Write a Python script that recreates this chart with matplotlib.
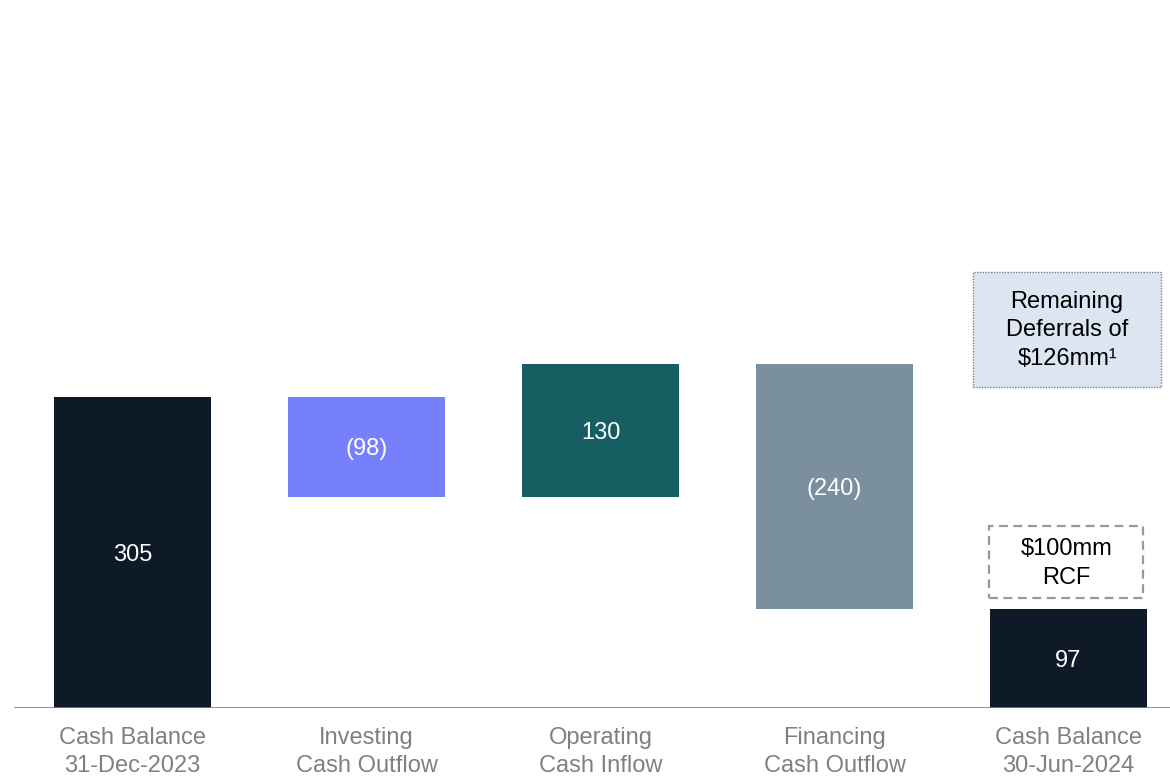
import matplotlib
matplotlib.use("Agg")
import matplotlib.pyplot as plt
from matplotlib.patches import Rectangle

plt.rcParams['font.family'] = ['Liberation Sans', 'DejaVu Sans']

categories = ["Cash Balance\n31-Dec-2023", "Investing\nCash Outflow", "Operating\nCash Inflow",
              "Financing\nCash Outflow", "Cash Balance\n30-Jun-2024"]
values = [305, -98, 130, -240, 97]
kinds = ["total", "delta", "delta", "delta", "total"]
colors = ["#0E1A28", "#7780FC", "#165E62", "#7A909E", "#0E1A28"]
value_labels = ["305", "(98)", "130", "(240)", "97"]

fig = plt.figure(figsize=(11.7, 7.76), dpi=100)
ax = fig.add_axes([0, 68/776, 1, 708/776])
ax.set_xlim(-132.5/234, (1170-132.5)/234)
ax.set_ylim(0, 708/1.02)

bar_w = 157/234
running = 0
for i, (v, k, c, lab) in enumerate(zip(values, kinds, colors, value_labels)):
    if k == "total":
        bottom, height = 0, v
        running = v
    else:
        if v >= 0:
            bottom, height = running, v
        else:
            bottom, height = running + v, -v
        running += v
    ax.bar(i, height, bottom=bottom, width=bar_w, color=c, zorder=2)
    ax.text(i, bottom + height/2, lab, ha='center', va='center_baseline', color='white',
            fontsize=17, zorder=3)

ax.axhline(0, xmin=15/1170, xmax=1, color='#808080', lw=1.2, zorder=4)

# Annotation boxes above final bar
last = len(values) - 1
rcf = Rectangle((last - 0.34, values[-1] + 10.5), 0.66, 70.5, fill=False,
                edgecolor='#999999', lw=1.6, linestyle=(0, (4, 2.5)), zorder=3)
ax.add_patch(rcf)
ax.text(last - 0.01, values[-1] + 10.5 + 70.5/2 - 1, "$100mm\nRCF", ha='center', va='center',
        fontsize=17, color='black', linespacing=1.38, parse_math=False)

defer = Rectangle((last - 0.408, 314.7), 0.803, 112.8, facecolor='#DCE6F2',
                  edgecolor='#7F7F7F', lw=1.0, linestyle=(0, (1, 1)), zorder=3)
ax.add_patch(defer)
ax.text(last - 0.006, 314.7 + 112.8/2 - 1, "Remaining\nDeferrals of\n$126mm¹", ha='center',
        va='center', fontsize=17, color='black', linespacing=1.38, parse_math=False, zorder=4)

ax.set_xticks(range(len(categories)))
ax.set_xticklabels(categories, fontsize=17, color='#808080', linespacing=1.35)
ax.tick_params(axis='x', length=0, pad=14)
ax.set_yticks([])
for s in ax.spines.values():
    s.set_visible(False)

fig.savefig("out.png", dpi=100)
